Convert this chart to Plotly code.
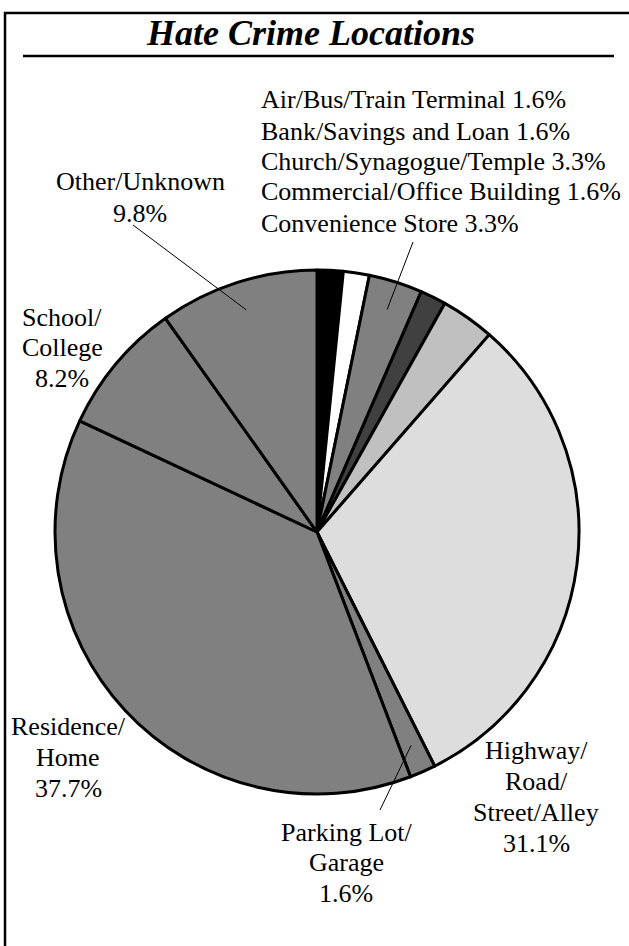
import math
import plotly.graph_objects as go

W, H = 629, 946

# ---- data ----
locations = [
    "Air/Bus/Train Terminal", "Bank/Savings and Loan", "Church/Synagogue/Temple",
    "Commercial/Office Building", "Convenience Store", "Highway/Road/Street/Alley",
    "Parking Lot/Garage", "Residence/Home", "School/College", "Other/Unknown",
]
percents = [1.6, 1.6, 3.3, 1.6, 3.3, 31.1, 1.6, 37.7, 8.2, 9.8]
slice_colors = ["#000000", "#ffffff", "#808080", "#404040", "#c0c0c0",
                "#dddddd", "#808080", "#808080", "#808080", "#808080"]

FONT = "Liberation Serif, Times New Roman, serif"

# pie geometry (pixels)
CX, CY, R = 317, 532, 262


def px(x):
    return x / W


def py(y):
    return 1 - y / H


fig = go.Figure(go.Pie(
    labels=locations,
    values=percents,
    sort=False,
    direction="clockwise",
    rotation=0,
    textinfo="none",
    hoverinfo="label+percent",
    marker=dict(colors=slice_colors, line=dict(color="black", width=3)),
    domain=dict(x=[px(CX - R), px(CX + R)], y=[py(CY + R), py(CY - R)]),
    showlegend=False,
))

annotations = []


def label(lines, x, ys, align="center"):
    for t, y in zip(lines, ys):
        annotations.append(dict(
            text=t, x=px(x), y=py(y), xref="paper", yref="paper",
            xanchor="left" if align == "left" else "center", yanchor="middle",
            showarrow=False, font=dict(family=FONT, size=26, color="black"),
        ))


# top-right list of small slices
small_lines = [f"{locations[i]} {percents[i]}%" for i in range(5)]
label(small_lines, 259, [100, 131, 162, 192, 223], align="left")

label(["Other/Unknown", f"{percents[9]}%"], 140, [181, 213])
label(["School/", "College", f"{percents[8]}%"], 62, [317, 348, 378])
label(["Residence/", "Home", f"{percents[7]}%"], 68, [726, 757, 788])
label(["Highway/", "Road/", "Street/Alley", f"{percents[5]}%"], 536, [750, 781, 812, 843])
label(["Parking Lot/", "Garage", f"{percents[6]}%"], 346, [832, 862, 893])

annotations.append(dict(
    text="<b><i>Hate Crime Locations</i></b>", x=px(310), y=py(33),
    xref="paper", yref="paper", xanchor="center", yanchor="middle",
    showarrow=False, font=dict(family=FONT, size=36, color="black"),
))

# leader lines: from inside slice (mid-angle) to label
total = sum(percents)
cum = [sum(percents[:i]) for i in range(len(percents))]


def mid_point(i, frac):
    a = 2 * math.pi * (cum[i] + percents[i] / 2) / total
    return CX + frac * R * math.sin(a), CY - frac * R * math.cos(a)


shapes = []
for idx, (ex, ey) in [(2, (413, 242)), (9, (133, 225)), (6, (380, 810))]:
    sx, sy = mid_point(idx, 0.89)
    shapes.append(dict(type="line", xref="paper", yref="paper",
                       x0=px(sx), y0=py(sy), x1=px(ex), y1=py(ey),
                       line=dict(color="black", width=1)))

# frame and title rule
shapes.append(dict(type="rect", xref="paper", yref="paper",
                   x0=px(5), y0=py(13), x1=px(660), y1=py(990),
                   line=dict(color="black", width=2.5)))
shapes.append(dict(type="line", xref="paper", yref="paper",
                   x0=px(23), y0=py(56), x1=px(614), y1=py(56),
                   line=dict(color="black", width=2.5)))

fig.update_layout(
    width=W, height=H,
    margin=dict(l=0, r=0, t=0, b=0),
    paper_bgcolor="white", plot_bgcolor="white",
    annotations=annotations, shapes=shapes,
)

fig.write_html(
    "out.html",
    config={"displayModeBar": False},
    post_script="document.body.style.margin='0';document.body.style.overflow='hidden';",
)
